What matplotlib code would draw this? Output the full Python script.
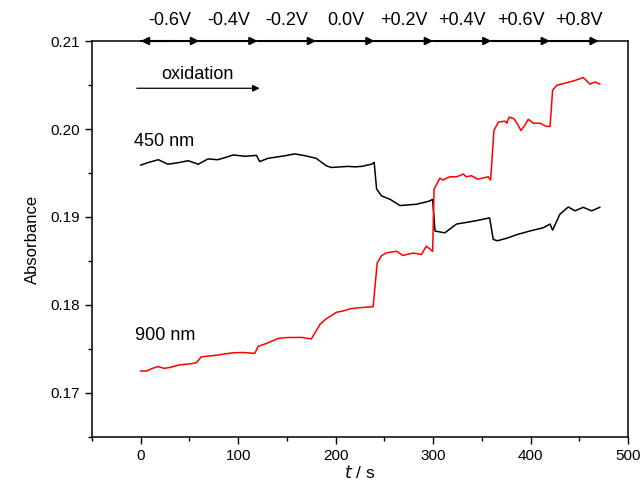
import matplotlib
matplotlib.use("Agg")
import matplotlib.pyplot as plt
from matplotlib.ticker import MultipleLocator, FormatStrFormatter

plt.rcParams['font.family'] = ['Liberation Sans', 'DejaVu Sans']

# 450 nm trace (black)
t_450 = [0, 8, 18, 28, 40, 48.6, 59, 69, 79, 88, 94.8, 106.8, 118.8, 122, 130.7, 144.5, 150,
         158, 167, 175, 180, 190.6, 195.8, 205, 213, 220, 226.6, 236.9, 239.5, 242, 247, 256,
         266, 283, 296, 299.5, 302, 312, 324, 335, 345, 358, 361.7, 366, 376, 386, 399, 413,
         420, 422.6, 430, 438.7, 445.6, 454, 462.7, 471]
a_450 = [0.1959, 0.1962, 0.19651, 0.1960, 0.1962, 0.1964, 0.1960, 0.1966, 0.19651, 0.1968,
         0.19705, 0.1969, 0.1970, 0.1963, 0.19667, 0.1969, 0.1970, 0.19717, 0.1970, 0.1968,
         0.19667, 0.1958, 0.19563, 0.1957, 0.19575, 0.1957, 0.19575, 0.1960, 0.19621, 0.1932,
         0.1924, 0.1920, 0.1913, 0.19145, 0.1918, 0.1920, 0.1884, 0.1882, 0.1892, 0.1894,
         0.1896, 0.1899, 0.18745, 0.1873, 0.1876, 0.1880, 0.1884, 0.18878, 0.1892, 0.1885,
         0.1903, 0.19114, 0.1907, 0.1911, 0.1907, 0.1911]

# 900 nm trace (red)
t_900 = [0, 6, 12, 18, 24, 30, 40, 50, 57, 62, 70, 78, 90, 95, 105, 117, 120.5, 129, 141, 150,
         165, 175, 184, 190, 201, 207, 215, 225, 238.5, 242.6, 247, 252, 262.5, 269, 275, 280,
         288, 293, 299.5, 301, 307, 310, 317, 324, 331, 334, 339.5, 346, 356.6, 359, 362.4,
         367, 373.7, 375.5, 378, 383, 386.4, 390, 394, 397.6, 402.8, 409.7, 416.5, 420, 422.6,
         426.8, 433.6, 444, 454, 461, 466, 471]
a_900 = [0.1725, 0.1725, 0.1728, 0.1730, 0.1728, 0.1729, 0.1732, 0.1733, 0.17343, 0.1741,
         0.1742, 0.1743, 0.1745, 0.17457, 0.1746, 0.1745, 0.1753, 0.17563, 0.1762, 0.1763,
         0.17632, 0.17614, 0.1778, 0.1784, 0.17918, 0.1793, 0.17957, 0.1797, 0.1798, 0.18478,
         0.1856, 0.18592, 0.18611, 0.18562, 0.1858, 0.1859, 0.18574, 0.18669, 0.1861, 0.19317,
         0.19442, 0.1942, 0.19457, 0.19457, 0.19488, 0.19457, 0.19469, 0.1943, 0.19457,
         0.1942, 0.19983, 0.20078, 0.2009, 0.20066, 0.20135, 0.20116, 0.2006, 0.19983, 0.2004,
         0.2011, 0.20066, 0.20066, 0.20029, 0.20029, 0.2044, 0.20497, 0.20516, 0.20546,
         0.20585, 0.2051, 0.20535, 0.2051]

# potential steps
step_start = [0, 60, 120, 180, 240, 300, 360, 420]
step_end = [60, 120, 180, 240, 300, 360, 420, 470]
step_labels = ['-0.6V', '-0.4V', '-0.2V', '0.0V', '+0.2V', '+0.4V', '+0.6V', '+0.8V']

fig = plt.figure(figsize=(6.43, 4.90), dpi=100)
ax = fig.add_axes([0.1431, 0.1082, 0.8336, 0.8081])

ax.plot(t_450, a_450, color='black', lw=1.1)
ax.plot(t_900, a_900, color='red', lw=1.1)

ax.set_xlim(-50, 500)
ax.set_ylim(0.165, 0.21)
ax.xaxis.set_major_locator(MultipleLocator(100))
ax.xaxis.set_minor_locator(MultipleLocator(50))
ax.yaxis.set_major_locator(MultipleLocator(0.01))
ax.yaxis.set_minor_locator(MultipleLocator(0.005))
ax.yaxis.set_major_formatter(FormatStrFormatter('%.2f'))
ax.tick_params(which='both', direction='out', top=False, right=False, labelsize=11)
ax.tick_params(which='major', length=5, width=1)
ax.tick_params(which='minor', length=3, width=1)
for s in ax.spines.values():
    s.set_linewidth(1.1)

ax.set_xlabel(r'$t$ / s', fontsize=12.5, labelpad=1)
ax.set_ylabel('Absorbance', fontsize=12, labelpad=8)

# potential step arrows along the top
ytop = 0.21
arrow = dict(arrowstyle='-|>', color='black', lw=1.5, mutation_scale=11, shrinkA=0, shrinkB=0)
ax.annotate('', xy=(0, ytop), xytext=(30, ytop), annotation_clip=False, arrowprops=arrow)
for s0, s1, lab in zip(step_start, step_end, step_labels):
    ax.annotate('', xy=(s1, ytop), xytext=(s0, ytop), annotation_clip=False, arrowprops=arrow)
    ax.text(s0 + 30, 1.053, lab, transform=ax.get_xaxis_transform(),
            ha='center', va='center', fontsize=13)

# oxidation arrow
ax.annotate('', xy=(122, 0.20463), xytext=(-4, 0.20463),
            arrowprops=dict(arrowstyle='-|>', color='black', lw=0.9,
                            mutation_scale=10, shrinkA=0, shrinkB=0))
ax.text(58.5, 0.2062, 'oxidation', ha='center', va='center', fontsize=13)

ax.text(-7, 0.19857, '450 nm', ha='left', va='center', fontsize=13)
ax.text(-6, 0.17651, '900 nm', ha='left', va='center', fontsize=13)

fig.savefig('out.png', dpi=100)
